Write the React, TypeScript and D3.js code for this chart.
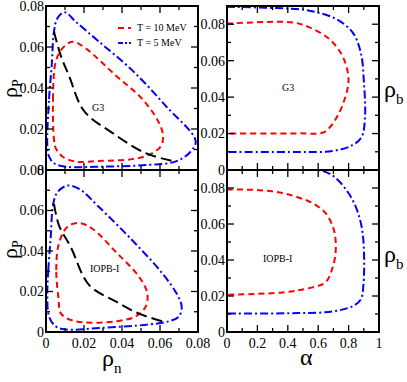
import React from 'react';
import * as d3 from 'd3';

type Pt = [number, number];

// G3, rho_p vs rho_n
const g3DensT5: Pt[] = [
  [0.0007, 0.0115], [0.0016, 0.0346], [0.003, 0.051], [0.0042, 0.0675], [0.006, 0.074],
  [0.0098, 0.077], [0.0156, 0.0724], [0.0279, 0.0626], [0.0454, 0.0486], [0.063, 0.0313],
  [0.0788, 0.014], [0.0753, 0.0082], [0.068, 0.0041], [0.054, 0.0025], [0.028, 0.0016],
  [0.0104, 0.0016], [0.0042, 0.0033], [0.0016, 0.0066],
];
const g3DensT10: Pt[] = [
  [0.0042, 0.0148], [0.0037, 0.0346], [0.0051, 0.0527], [0.0086, 0.0593], [0.0139, 0.0626],
  [0.0209, 0.0593], [0.0367, 0.0461], [0.0507, 0.0346], [0.0595, 0.023], [0.0616, 0.0165],
  [0.0604, 0.0115], [0.0542, 0.0074], [0.0454, 0.0053], [0.0279, 0.0044], [0.0156, 0.0041],
  [0.0086, 0.0066], [0.0051, 0.0107],
];
const g3Spinodal: Pt[] = [
  [0.0042, 0.0675], [0.0077, 0.056], [0.0121, 0.046], [0.02, 0.0288], [0.0349, 0.0181],
  [0.0525, 0.0082], [0.068, 0.0041],
];

// IOPB-I, rho_p vs rho_n
const iopbDensT5: Pt[] = [
  [0.0007, 0.0175], [0.0012, 0.0306], [0.0025, 0.047], [0.0038, 0.0633], [0.006, 0.069],
  [0.0112, 0.0723], [0.0174, 0.0707], [0.0279, 0.0617], [0.0454, 0.0453], [0.0612, 0.029],
  [0.0691, 0.0184], [0.0714, 0.0126], [0.07, 0.0077], [0.0647, 0.0053], [0.0542, 0.0037],
  [0.0279, 0.002], [0.0104, 0.0012], [0.0051, 0.0028], [0.0016, 0.0077],
];
const iopbDensT10: Pt[] = [
  [0.0068, 0.0143], [0.0054, 0.0306], [0.0068, 0.0437], [0.0112, 0.0519], [0.0174, 0.0538],
  [0.0244, 0.051], [0.0367, 0.0396], [0.0489, 0.0274], [0.0533, 0.0192], [0.0525, 0.0126],
  [0.0472, 0.0077], [0.0367, 0.0053], [0.0191, 0.0048], [0.0104, 0.007], [0.0072, 0.0102],
];
const iopbSpinodal: Pt[] = [
  [0.0042, 0.0633], [0.0068, 0.0527], [0.013, 0.042], [0.0226, 0.0233], [0.0367, 0.0151],
  [0.0489, 0.0091], [0.0612, 0.0053],
];

// G3, rho_b vs alpha
const g3AlphaT5: Pt[] = [
  [0, 0.0896], [0.474, 0.0882], [0.583, 0.0867], [0.715, 0.083], [0.825, 0.0757],
  [0.88, 0.0645], [0.901, 0.0479], [0.908, 0.0293], [0.886, 0.0182], [0.825, 0.0136],
  [0.693, 0.0104], [0.474, 0.0099], [0, 0.0099],
];
const g3AlphaT10: Pt[] = [
  [0, 0.0803], [0.43, 0.081], [0.539, 0.0784], [0.671, 0.072], [0.759, 0.0627],
  [0.798, 0.0516], [0.792, 0.0442], [0.737, 0.0312], [0.671, 0.0229], [0.627, 0.0204],
  [0.474, 0.0201], [0, 0.0201],
];

// IOPB-I, rho_b vs alpha
const iopbAlphaT5: Pt[] = [
  [0, 0.0909], [0.474, 0.0905], [0.605, 0.0899], [0.693, 0.087], [0.781, 0.0794],
  [0.846, 0.0698], [0.886, 0.0583], [0.901, 0.0449], [0.897, 0.0257], [0.88, 0.0181],
  [0.825, 0.0143], [0.693, 0.0114], [0.474, 0.0105], [0, 0.0103],
];
const iopbAlphaT10: Pt[] = [
  [0, 0.0792], [0.21, 0.0788], [0.364, 0.0772], [0.474, 0.0746], [0.561, 0.0717],
  [0.649, 0.066], [0.704, 0.0564], [0.715, 0.0449], [0.693, 0.0353], [0.649, 0.0277],
  [0.561, 0.0248], [0.364, 0.022], [0, 0.0207],
];

const densTicks = [0, 0.02, 0.04, 0.06, 0.08];
const densMinor = d3.range(0, 0.0801, 0.01);
const alphaTicks = [0, 0.2, 0.4, 0.6, 0.8, 1];
const alphaMinor = d3.range(0, 1.001, 0.1);
const rhoBTicks = [0, 0.02, 0.04, 0.06, 0.08];
const rhoBMinor = d3.range(0, 0.0901, 0.01);

const legendLabels = ['T = 10 MeV', 'T = 5 MeV'];

const RED = '#ff0000';
const BLUE = '#0000ff';
const DASH_RED = '6,4';
const DASH_BLUE = '8,3,2,3';
const DASH_BLACK = '11,5';
const FONT = "'Liberation Serif', 'Times New Roman', serif";

type Curve = { pts: Pt[]; color: string; dash: string; closed: boolean };

type PanelProps = {
  id: string;
  x0: number; x1: number; y0: number; y1: number;
  xDomain: [number, number]; yDomain: [number, number];
  xMajor: number[]; xMinor: number[]; yMajor: number[]; yMinor: number[];
  xFmt: (v: number) => string; yFmt: (v: number) => string;
  showX: boolean;
  curves: Curve[];
};

const fmt = (v: number) => (v === 0 ? '0' : d3.format('.2f')(v));
const fmtA = (v: number) => (v === 0 || v === 1 ? String(v) : d3.format('.1f')(v));

const Panel = (p: PanelProps) => {
  const xs = d3.scaleLinear().domain(p.xDomain).range([p.x0, p.x1]);
  const ys = d3.scaleLinear().domain(p.yDomain).range([p.y1, p.y0]);
  const major = 7;
  const minor = 4;
  return (
    <g>
      <defs>
        <clipPath id={p.id}>
          <rect x={p.x0} y={p.y0} width={p.x1 - p.x0} height={p.y1 - p.y0} />
        </clipPath>
      </defs>
      <g clipPath={`url(#${p.id})`}>
        {p.curves.map((c, i) => {
          const line = d3.line<Pt>()
            .x(d => xs(d[0]))
            .y(d => ys(d[1]))
            .curve(c.closed ? d3.curveCatmullRomClosed.alpha(0.5) : d3.curveCatmullRom.alpha(0.5));
          return (
            <path key={i} d={line(c.pts) ?? ''} fill="none" stroke={c.color}
              strokeWidth={2} strokeDasharray={c.dash} />
          );
        })}
      </g>
      {p.xMinor.map((v, i) => {
        const isMajor = p.xMajor.some(m => Math.abs(m - v) < 1e-9);
        const len = isMajor ? major : minor;
        return (
          <g key={'xm' + i} stroke="#000" strokeWidth={1.3}>
            <line x1={xs(v)} x2={xs(v)} y1={p.y1} y2={p.y1 - len} />
            <line x1={xs(v)} x2={xs(v)} y1={p.y0} y2={p.y0 + len} />
          </g>
        );
      })}
      {p.yMinor.map((v, i) => {
        const isMajor = p.yMajor.some(m => Math.abs(m - v) < 1e-9);
        const len = isMajor ? major : minor;
        return (
          <g key={'ym' + i} stroke="#000" strokeWidth={1.3}>
            <line x1={p.x0} x2={p.x0 + len} y1={ys(v)} y2={ys(v)} />
            <line x1={p.x1} x2={p.x1 - len} y1={ys(v)} y2={ys(v)} />
          </g>
        );
      })}
      <rect x={p.x0} y={p.y0} width={p.x1 - p.x0} height={p.y1 - p.y0}
        fill="none" stroke="#000" strokeWidth={2} />
      {p.yMajor.map((v, i) => (
        <text key={'yl' + i} x={p.x0 - 2} y={ys(v)} dy="0.35em" textAnchor="end"
          fontSize={14} fontFamily={FONT}>{p.yFmt(v)}</text>
      ))}
      {p.showX && p.xMajor.map((v, i) => (
        <text key={'xl' + i} x={xs(v)} y={p.y1 + 16} textAnchor="middle"
          fontSize={14} fontFamily={FONT}>{p.xFmt(v)}</text>
      ))}
    </g>
  );
};

const App = () => {
  const L0 = 46, L1 = 198, R0 = 227, R1 = 379;
  const T0 = 6, M = 170, B1 = 332;
  return (
    <svg width={407} height={382} style={{ position: 'absolute', left: 0, top: 0, background: '#fff' }}>
      <Panel id="c1" x0={L0} x1={L1} y0={T0} y1={M} xDomain={[0, 0.08]} yDomain={[0, 0.08]}
        xMajor={densTicks} xMinor={densMinor} yMajor={densTicks} yMinor={densMinor}
        xFmt={fmt} yFmt={fmt} showX={false}
        curves={[
          { pts: g3DensT5, color: BLUE, dash: DASH_BLUE, closed: true },
          { pts: g3DensT10, color: RED, dash: DASH_RED, closed: true },
          { pts: g3Spinodal, color: '#000', dash: DASH_BLACK, closed: false },
        ]} />
      <Panel id="c2" x0={R0} x1={R1} y0={T0} y1={M} xDomain={[0, 1]} yDomain={[0, 0.09]}
        xMajor={alphaTicks} xMinor={alphaMinor} yMajor={rhoBTicks} yMinor={rhoBMinor}
        xFmt={fmtA} yFmt={fmt} showX={false}
        curves={[
          { pts: g3AlphaT5, color: BLUE, dash: DASH_BLUE, closed: false },
          { pts: g3AlphaT10, color: RED, dash: DASH_RED, closed: false },
        ]} />
      <Panel id="c3" x0={L0} x1={L1} y0={M} y1={B1} xDomain={[0, 0.08]} yDomain={[0, 0.08]}
        xMajor={densTicks} xMinor={densMinor} yMajor={densTicks} yMinor={densMinor}
        xFmt={fmt} yFmt={fmt} showX={true}
        curves={[
          { pts: iopbDensT5, color: BLUE, dash: DASH_BLUE, closed: true },
          { pts: iopbDensT10, color: RED, dash: DASH_RED, closed: true },
          { pts: iopbSpinodal, color: '#000', dash: DASH_BLACK, closed: false },
        ]} />
      <Panel id="c4" x0={R0} x1={R1} y0={M} y1={B1} xDomain={[0, 1]} yDomain={[0, 0.09]}
        xMajor={alphaTicks} xMinor={alphaMinor} yMajor={rhoBTicks} yMinor={rhoBMinor}
        xFmt={fmtA} yFmt={fmt} showX={true}
        curves={[
          { pts: iopbAlphaT5, color: BLUE, dash: DASH_BLUE, closed: false },
          { pts: iopbAlphaT10, color: RED, dash: DASH_RED, closed: false },
        ]} />

      {/* legend */}
      <g fontFamily={FONT} fontSize={10}>
        <line x1={118} x2={131} y1={28} y2={28} stroke={RED} strokeWidth={2} strokeDasharray={DASH_RED} />
        <text x={137} y={31}>{legendLabels[0]}</text>
        <line x1={118} x2={131} y1={43} y2={43} stroke={BLUE} strokeWidth={2} strokeDasharray="5,2,2,2" />
        <text x={137} y={46}>{legendLabels[1]}</text>
      </g>

      {/* panel labels */}
      <g fontFamily={FONT} fontSize={10}>
        <text x={92} y={111}>G3</text>
        <text x={282} y={91}>G3</text>
        <text x={90} y={272}>IOPB-I</text>
        <text x={263} y={262}>IOPB-I</text>
      </g>

      {/* axis titles */}
      <g fontFamily={FONT}>
        <text transform="translate(17,98) rotate(-90)" fontSize={22}>ρ<tspan fontSize={14} dy={5}>P</tspan></text>
        <text transform="translate(17,259) rotate(-90)" fontSize={22}>ρ<tspan fontSize={14} dy={5}>P</tspan></text>
        <text x={102} y={366} fontSize={24}>ρ<tspan fontSize={15} dy={7}>n</tspan></text>
        <text x={300} y={365} fontSize={24}>α</text>
        <text x={384} y={97} fontSize={24}>ρ<tspan fontSize={15} dy={7}>b</tspan></text>
        <text x={384} y={262} fontSize={24}>ρ<tspan fontSize={15} dy={7}>b</tspan></text>
      </g>
    </svg>
  );
};

export default App;
